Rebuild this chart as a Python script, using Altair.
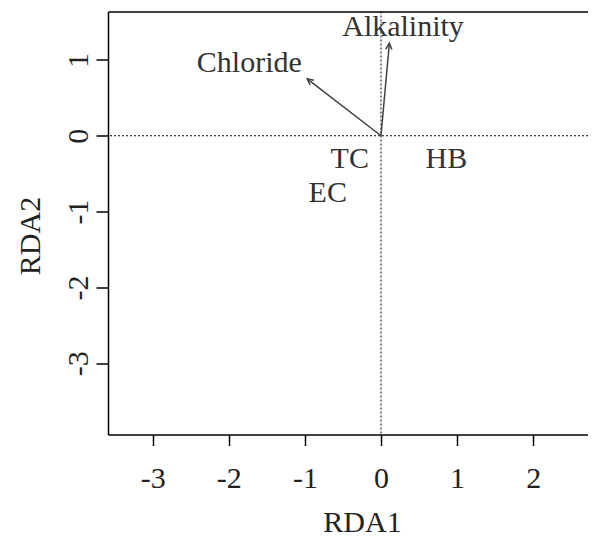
import altair as alt
import pandas as pd

# ---- data ----
arrow_names = ["Chloride", "Alkalinity"]
arrow_x = [-0.97, 0.11]
arrow_y = [0.75, 1.22]
arrow_label_x = [-1.73, 0.29]
arrow_label_y = [0.84, 1.31]

site_names = ["TC", "HB", "EC"]
site_x = [-0.41, 0.86, -0.70]
site_y = [-0.42, -0.42, -0.87]

x_ticks = [-3, -2, -1, 0, 1, 2]
y_ticks = [-3, -2, -1, 0, 1]
x_domain = [-3.588, 2.721]
y_domain = [-3.938, 1.638]

FONT = "Liberation Serif"

arrows = pd.DataFrame({
    "name": arrow_names,
    "x0": [0.0] * len(arrow_names),
    "y0": [0.0] * len(arrow_names),
    "x": arrow_x,
    "y": arrow_y,
    "lx": arrow_label_x,
    "ly": arrow_label_y,
})
sites = pd.DataFrame({"name": site_names, "x": site_x, "y": site_y})

xs = alt.Scale(domain=x_domain, nice=False, zero=False)
ys = alt.Scale(domain=y_domain, nice=False, zero=False)

x_axis = alt.Axis(
    values=x_ticks, labelExpr="toString(datum.value)", title="RDA1", grid=False,
    tickSize=11, labelPadding=42,
    labelBaseline="alphabetic", labelAlign="center", labelAngle=0,
    titleX=254, titleY=97, titleBaseline="alphabetic", titleAlign="center",
    titleAnchor="start", orient="bottom",
)
y_axis = alt.Axis(
    values=y_ticks, labelExpr="toString(datum.value)", title="RDA2", grid=False,
    tickSize=12, labelPadding=9,
    labelAngle=270, labelAlign="center", labelBaseline="alphabetic",
    titleAngle=270, titleX=-69, titleY=224, titleBaseline="alphabetic",
    titleAlign="center", titleAnchor="start", orient="left",
)

base_arrows = alt.Chart(arrows)

vline = alt.Chart(pd.DataFrame({"v": [0]})).mark_rule(
    color="black", strokeDash=[2, 2], strokeWidth=1
).encode(x=alt.X("v:Q", scale=xs, axis=x_axis))

hline = alt.Chart(pd.DataFrame({"v": [0]})).mark_rule(
    color="black", strokeDash=[2, 2], strokeWidth=1
).encode(y=alt.Y("v:Q", scale=ys, axis=y_axis))

top_frame = alt.Chart(pd.DataFrame({"v": [0]})).mark_point(opacity=0).encode(
    x=alt.X("v:Q", scale=xs, axis=alt.Axis(orient="top", labels=False, ticks=False,
                                          title=None, grid=False, values=x_ticks)),
)

segs = base_arrows.mark_rule(color="#404040", strokeWidth=1.5).encode(
    x=alt.X("x0:Q", scale=xs, axis=None), y=alt.Y("y0:Q", scale=ys, axis=None),
    x2="x:Q", y2="y:Q",
)

heads = base_arrows.transform_calculate(
    ang="(atan2(datum.x, datum.y) * 180 / PI + 360) % 360"
).mark_point(
    shape="M -0.5 1 L 0 0 L 0.5 1", filled=False, color="#404040",
    strokeWidth=1.5, size=150, opacity=1,
).encode(
    x=alt.X("x:Q", scale=xs, axis=None), y=alt.Y("y:Q", scale=ys, axis=None),
    angle=alt.Angle("ang:Q", scale=None),
)

arrow_text = base_arrows.mark_text(
    font=FONT, fontSize=30, color="#333333", baseline="alphabetic", align="center"
).encode(x=alt.X("lx:Q", scale=xs, axis=None), y=alt.Y("ly:Q", scale=ys, axis=None),
         text="name:N")

site_text = alt.Chart(sites).mark_text(
    font=FONT, fontSize=30, color="#333333", baseline="alphabetic", align="center"
).encode(x=alt.X("x:Q", scale=xs, axis=None), y=alt.Y("y:Q", scale=ys, axis=None),
         text="name:N")

chart = alt.layer(
    vline, hline, top_frame, segs, heads, arrow_text, site_text
).resolve_axis(x="independent", y="independent").properties(
    width=480, height=423,
    autosize=alt.AutoSizeParams(type="none"),
    padding={"left": 100, "top": 3.5, "right": 0, "bottom": 102.5},
).configure_view(
    stroke=None
).configure_axis(
    labelFont=FONT, titleFont=FONT, labelFontSize=30, titleFontSize=30,
    labelColor="#222222", titleColor="#222222", titleFontWeight="normal",
    domainColor="black", tickColor="black", domainWidth=1.5, tickWidth=1.5,
)

chart.save("out.html", embed_options={"renderer": "svg", "actions": False})
